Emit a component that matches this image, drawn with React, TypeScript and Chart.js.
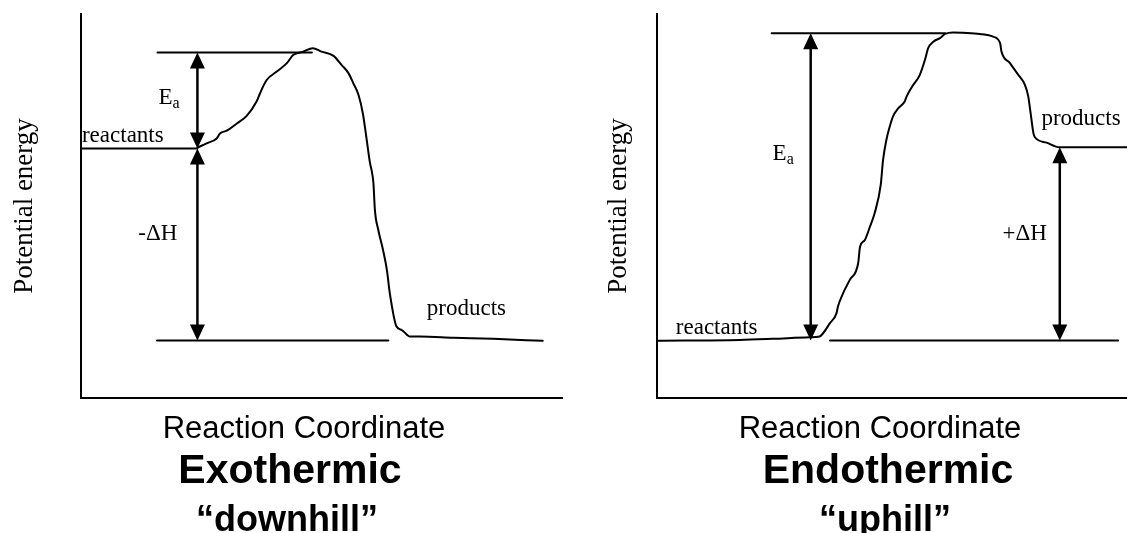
import React, { useEffect, useRef } from "react";
import { Chart, registerables } from "chart.js";

Chart.register(...registerables);

// ---------- Exothermic ("downhill") diagram data (reaction coordinate 0-100, energy 0-100) ----------
const EXO_PATH_X = [24.2, 26.1, 28.2, 28.9, 30.3, 32.4, 34.4, 36.5, 37.2, 38.6, 40.7, 42.8, 44.1, 46.2, 48.2, 50.0, 52.5, 54.2, 55.6, 56.6, 57.7, 58.6, 59.4, 60.1, 60.4, 60.8, 61.1, 61.8, 62.8, 63.6, 64.2, 65.6, 66.7, 68.4, 70.5, 77.4, 85.7, 96.0];
const EXO_PATH_Y = [65.2, 66.3, 67.6, 68.9, 69.6, 71.5, 73.4, 77.2, 79.3, 82.8, 85.0, 87.2, 89.3, 90.2, 91.1, 90.2, 89.1, 86.7, 84.6, 82.0, 78.9, 74.1, 67.2, 61.1, 59.4, 55.9, 49.0, 43.8, 38.5, 33.3, 27.3, 18.6, 17.7, 16.0, 16.0, 15.7, 15.4, 14.9];
const EXO_REACTANT_LEVEL = 65;
const EXO_TS_LEVEL = 90;
const EXO_PRODUCT_LEVEL = 15;
const EXO_ARROW_X = 24.2;
const EXO_REACTANT_LINE_X = [0, 24.2];
const EXO_TS_LINE_X = [15.9, 48.0];
const EXO_PRODUCT_LINE_X = [15.8, 63.9];

// ---------- Endothermic ("uphill") diagram data ----------
const ENDO_PATH_X = [0, 17.6, 24.7, 32.5, 34.6, 35.3, 36.8, 38.2, 38.5, 39.6, 41.0, 42.8, 43.2, 44.2, 45.3, 46.3, 47.6, 48.1, 48.8, 49.5, 50.2, 51.3, 52.7, 53.1, 54.5, 55.9, 57.0, 57.7, 58.8, 60.2, 61.3, 63.0, 65.1, 68.7, 71.5, 73.0, 73.3, 75.1, 76.9, 78.3, 79.0, 79.5, 80.1, 80.4, 82.9, 85.6, 100];
const ENDO_PATH_Y = [14.9, 15.1, 15.4, 15.8, 16.0, 16.8, 19.5, 22.1, 23.8, 27.3, 30.7, 35.1, 39.4, 41.1, 44.6, 48.1, 55.5, 62.0, 67.2, 70.6, 73.3, 75.4, 77.2, 78.5, 81.5, 84.1, 88.0, 91.1, 92.8, 93.7, 94.8, 95.2, 95.1, 94.8, 94.1, 92.4, 90.2, 87.2, 84.1, 81.5, 78.5, 74.1, 68.9, 67.9, 66.5, 65.3, 65.3];
const ENDO_REACTANT_LEVEL = 15;
const ENDO_TS_LEVEL = 95;
const ENDO_PRODUCT_LEVEL = 65.3;
const ENDO_EA_ARROW_X = 32.7;
const ENDO_DH_ARROW_X = 85.7;
const ENDO_TS_LINE_X = [24.4, 61.3];
const ENDO_REACTANT_REF_LINE_X = [36.8, 98.1];

// ---------- Text ----------
const Y_TITLE = "Potential energy";
const X_TITLE = "Reaction Coordinate";
const EXO_TITLE = "Exothermic";
const EXO_SUB = "\u201Cdownhill\u201D";
const ENDO_TITLE = "Endothermic";
const ENDO_SUB = "\u201Cuphill\u201D";

const SERIF = '"Liberation Serif", "Times New Roman", Times, serif';
const SANS = '"Liberation Sans", Arial, Helvetica, sans-serif';

type Arrow = { x: number; y1: number; y2: number };
type Label = { text: string; sub?: string; x: number; y: number };
type Caption = { text: string; font: string; x: number; y: number };

type Annot = {
  arrows: Arrow[];
  labels: Label[];
  captions: Caption[];
  yTitleX: number;
};

const pts = (xs: number[], ys: number[]) => xs.map((x, i) => ({ x, y: ys[i] }));
const hline = (xs: number[], y: number) => [{ x: xs[0], y }, { x: xs[1], y }];

const annotPlugin = {
  id: "energyAnnot",
  afterDraw(chart: any) {
    const a: Annot = chart.options.plugins.energyAnnot;
    if (!a) return;
    const ctx = chart.ctx as CanvasRenderingContext2D;
    const xs = chart.scales.x;
    const ys = chart.scales.y;
    const area = chart.chartArea;
    ctx.save();
    ctx.fillStyle = "#000";
    ctx.strokeStyle = "#000";
    // double-headed arrows
    const head = 16;
    const hw = 7.5;
    for (const ar of a.arrows) {
      const px = xs.getPixelForValue(ar.x);
      const top = ys.getPixelForValue(Math.max(ar.y1, ar.y2));
      const bot = ys.getPixelForValue(Math.min(ar.y1, ar.y2));
      ctx.lineWidth = 2.5;
      ctx.beginPath();
      ctx.moveTo(px, top + head - 2);
      ctx.lineTo(px, bot - head + 2);
      ctx.stroke();
      ctx.beginPath();
      ctx.moveTo(px, top);
      ctx.lineTo(px - hw, top + head);
      ctx.lineTo(px + hw, top + head);
      ctx.closePath();
      ctx.fill();
      ctx.beginPath();
      ctx.moveTo(px, bot);
      ctx.lineTo(px - hw, bot - head);
      ctx.lineTo(px + hw, bot - head);
      ctx.closePath();
      ctx.fill();
    }
    // labels inside plot
    ctx.textBaseline = "alphabetic";
    ctx.textAlign = "left";
    for (const lb of a.labels) {
      const px = xs.getPixelForValue(lb.x);
      const py = ys.getPixelForValue(lb.y);
      ctx.font = `23px ${SERIF}`;
      ctx.fillText(lb.text, px, py);
      if (lb.sub) {
        const w = ctx.measureText(lb.text).width;
        ctx.font = `16px ${SERIF}`;
        ctx.fillText(lb.sub, px + w, py + 4);
      }
    }
    // y axis title (rotated)
    ctx.save();
    ctx.translate(a.yTitleX, (area.top + area.bottom) / 2);
    ctx.rotate(-Math.PI / 2);
    ctx.textAlign = "center";
    ctx.font = `27px ${SERIF}`;
    ctx.fillText(Y_TITLE, 0, 0);
    ctx.restore();
    // captions under the plot
    ctx.textAlign = "center";
    for (const c of a.captions) {
      ctx.font = c.font;
      ctx.fillText(c.text, c.x, c.y);
    }
    ctx.restore();
  },
};

function makeConfig(datasets: any[], padLeft: number, padRight: number, annot: Annot) {
  const axis = {
    type: "linear",
    min: 0,
    max: 100,
    ticks: { display: false },
    grid: { display: false, drawTicks: false },
    border: { display: true, color: "#000", width: 2 },
  };
  return {
    type: "line",
    data: { datasets },
    options: {
      animation: false,
      responsive: false,
      devicePixelRatio: 1,
      layout: { padding: { left: padLeft, right: padRight, top: 14, bottom: 135 } },
      plugins: {
        legend: { display: false },
        tooltip: { enabled: false },
        energyAnnot: annot,
      },
      elements: { point: { radius: 0 }, line: { tension: 0 } },
      scales: { x: { ...axis }, y: { ...axis } },
    },
    plugins: [annotPlugin],
  };
}

const ds = (label: string, data: any[], width: number, smooth = false) => ({
  label,
  data,
  borderColor: "#000",
  borderWidth: width,
  pointRadius: 0,
  fill: false,
  cubicInterpolationMode: smooth ? "monotone" : "default",
  borderJoinStyle: "round",
  borderCapStyle: "round",
});

export default function App() {
  const leftRef = useRef<HTMLCanvasElement>(null);
  const rightRef = useRef<HTMLCanvasElement>(null);

  useEffect(() => {
    const left = new Chart(
      leftRef.current as HTMLCanvasElement,
      makeConfig(
        [
          ds("Reaction path", pts(EXO_PATH_X, EXO_PATH_Y), 2, true),
          ds("Reactants", hline(EXO_REACTANT_LINE_X, EXO_REACTANT_LEVEL), 2),
          ds("Transition state", hline(EXO_TS_LINE_X, EXO_TS_LEVEL), 2),
          ds("Products level", hline(EXO_PRODUCT_LINE_X, EXO_PRODUCT_LEVEL), 2),
        ],
        81,
        1,
        {
          arrows: [
            { x: EXO_ARROW_X, y1: EXO_TS_LEVEL, y2: EXO_REACTANT_LEVEL },
            { x: EXO_ARROW_X, y1: EXO_REACTANT_LEVEL, y2: EXO_PRODUCT_LEVEL },
          ],
          labels: [
            { text: "reactants", x: 0.2, y: 66.7 },
            { text: "E", sub: "a", x: 16.1, y: 76.6 },
            { text: "-\u0394H", x: 11.9, y: 41.1 },
            { text: "products", x: 71.9, y: 21.6 },
          ],
          captions: [
            { text: X_TITLE, font: `31px ${SANS}`, x: 304, y: 438 },
            { text: EXO_TITLE, font: `bold 41px ${SANS}`, x: 290, y: 483 },
            { text: EXO_SUB, font: `bold 36px ${SANS}`, x: 287, y: 531 },
          ],
          yTitleX: 32,
        }
      ) as any
    );
    const right = new Chart(
      rightRef.current as HTMLCanvasElement,
      makeConfig(
        [
          ds("Reaction path", pts(ENDO_PATH_X, ENDO_PATH_Y), 2, true),
          ds("Transition state", hline(ENDO_TS_LINE_X, ENDO_TS_LEVEL), 2),
          ds("Reactants level", hline(ENDO_REACTANT_REF_LINE_X, ENDO_REACTANT_LEVEL), 2),
        ],
        94,
        0,
        {
          arrows: [
            { x: ENDO_EA_ARROW_X, y1: ENDO_TS_LEVEL, y2: ENDO_REACTANT_LEVEL },
            { x: ENDO_DH_ARROW_X, y1: ENDO_PRODUCT_LEVEL, y2: ENDO_REACTANT_LEVEL },
          ],
          labels: [
            { text: "E", sub: "a", x: 24.6, y: 62.0 },
            { text: "products", x: 81.8, y: 71.1 },
            { text: "+\u0394H", x: 73.5, y: 41.1 },
            { text: "reactants", x: 4.0, y: 16.7 },
          ],
          captions: [
            { text: X_TITLE, font: `31px ${SANS}`, x: 317, y: 438 },
            { text: ENDO_TITLE, font: `bold 41px ${SANS}`, x: 325, y: 483 },
            { text: ENDO_SUB, font: `bold 36px ${SANS}`, x: 322, y: 531 },
          ],
          yTitleX: 63,
        }
      ) as any
    );
    return () => {
      left.destroy();
      right.destroy();
    };
  }, []);

  return (
    <div style={{ position: "fixed", left: 0, top: 0, width: 1127, height: 533, background: "#fff", overflow: "hidden" }}>
      <canvas ref={leftRef} width={563} height={533} style={{ position: "absolute", left: 0, top: 0, width: 563, height: 533 }} />
      <canvas ref={rightRef} width={564} height={533} style={{ position: "absolute", left: 563, top: 0, width: 564, height: 533 }} />
    </div>
  );
}
